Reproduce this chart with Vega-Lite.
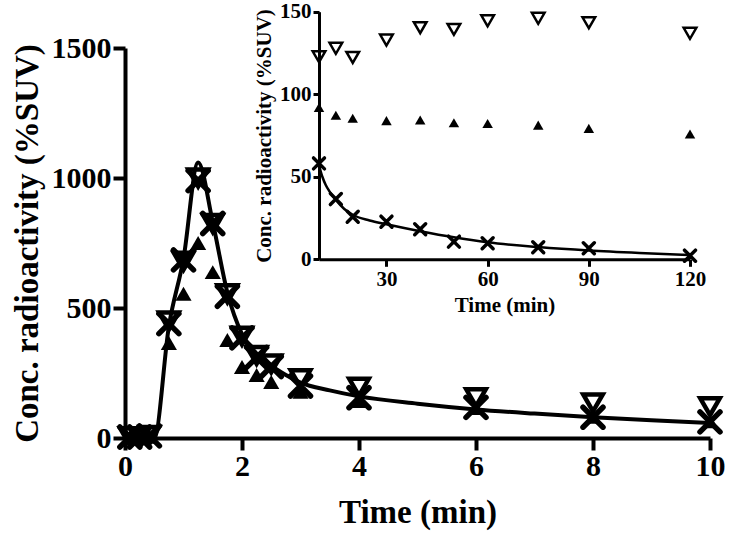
{
  "$schema": "https://vega.github.io/schema/vega-lite/v6.json",
  "width": 585,
  "height": 390,
  "autosize": "none",
  "padding": {"left": 125, "top": 48, "right": 24, "bottom": 99},
  "background": "white",
  "config": {
    "view": {"stroke": null},
    "axis": {
      "grid": false,
      "domainColor": "black",
      "tickColor": "black",
      "labelColor": "black",
      "titleColor": "black",
      "labelFont": "Liberation Serif",
      "titleFont": "Liberation Serif",
      "labelFontWeight": "bold",
      "titleFontWeight": "bold",
      "format": "d"
    }
  },
  "datasets": {
    "main": [
      {"t": 0, "s": "fit", "v": 0}, {"t": 0.25, "s": "fit", "v": 0}, {"t": 0.5, "s": "fit", "v": 0},
      {"t": 0.75, "s": "fit", "v": 430}, {"t": 1.0, "s": "fit", "v": 690}, {"t": 1.25, "s": "fit", "v": 1060},
      {"t": 1.5, "s": "fit", "v": 830}, {"t": 1.75, "s": "fit", "v": 560}, {"t": 2.0, "s": "fit", "v": 400},
      {"t": 2.25, "s": "fit", "v": 325}, {"t": 2.5, "s": "fit", "v": 278}, {"t": 2.75, "s": "fit", "v": 242},
      {"t": 3.0, "s": "fit", "v": 213}, {"t": 3.5, "s": "fit", "v": 183}, {"t": 4.0, "s": "fit", "v": 160},
      {"t": 5.0, "s": "fit", "v": 132}, {"t": 6.0, "s": "fit", "v": 110}, {"t": 7.0, "s": "fit", "v": 94},
      {"t": 8.0, "s": "fit", "v": 80}, {"t": 9.0, "s": "fit", "v": 68}, {"t": 10.0, "s": "fit", "v": 58},

      {"t": 0.083, "s": "inv", "v": 5}, {"t": 0.25, "s": "inv", "v": 5}, {"t": 0.417, "s": "inv", "v": 10},
      {"t": 0.75, "s": "inv", "v": 450}, {"t": 1.0, "s": "inv", "v": 680}, {"t": 1.25, "s": "inv", "v": 1000},
      {"t": 1.5, "s": "inv", "v": 825}, {"t": 1.75, "s": "inv", "v": 555}, {"t": 2.0, "s": "inv", "v": 392},
      {"t": 2.25, "s": "inv", "v": 318}, {"t": 2.5, "s": "inv", "v": 285}, {"t": 3.0, "s": "inv", "v": 228},
      {"t": 4.0, "s": "inv", "v": 195}, {"t": 6.0, "s": "inv", "v": 155}, {"t": 8.0, "s": "inv", "v": 135},
      {"t": 10.0, "s": "inv", "v": 120},

      {"t": 0.083, "s": "tri", "v": 3}, {"t": 0.25, "s": "tri", "v": 3}, {"t": 0.417, "s": "tri", "v": 5},
      {"t": 0.75, "s": "tri", "v": 365}, {"t": 1.0, "s": "tri", "v": 555}, {"t": 1.25, "s": "tri", "v": 750},
      {"t": 1.5, "s": "tri", "v": 638}, {"t": 1.75, "s": "tri", "v": 377}, {"t": 2.0, "s": "tri", "v": 273},
      {"t": 2.25, "s": "tri", "v": 242}, {"t": 2.5, "s": "tri", "v": 215}, {"t": 3.0, "s": "tri", "v": 178},
      {"t": 4.0, "s": "tri", "v": 142}, {"t": 6.0, "s": "tri", "v": 115}, {"t": 8.0, "s": "tri", "v": 82},
      {"t": 10.0, "s": "tri", "v": 64},

      {"t": 0.083, "s": "x", "v": 4}, {"t": 0.25, "s": "x", "v": 4}, {"t": 0.417, "s": "x", "v": 8},
      {"t": 0.75, "s": "x", "v": 440}, {"t": 1.0, "s": "x", "v": 685}, {"t": 1.25, "s": "x", "v": 990},
      {"t": 1.5, "s": "x", "v": 825}, {"t": 1.75, "s": "x", "v": 545}, {"t": 2.0, "s": "x", "v": 385},
      {"t": 2.25, "s": "x", "v": 310}, {"t": 2.5, "s": "x", "v": 275}, {"t": 3.0, "s": "x", "v": 200},
      {"t": 4.0, "s": "x", "v": 155}, {"t": 6.0, "s": "x", "v": 118}, {"t": 8.0, "s": "x", "v": 80},
      {"t": 10.0, "s": "x", "v": 62}
    ],
    "inset": [
      {"t": 10, "s": "fit", "v": 57}, {"t": 11, "s": "fit", "v": 50}, {"t": 12, "s": "fit", "v": 45},
      {"t": 13, "s": "fit", "v": 41.5}, {"t": 15, "s": "fit", "v": 36}, {"t": 17.5, "s": "fit", "v": 30.5},
      {"t": 20, "s": "fit", "v": 27}, {"t": 25, "s": "fit", "v": 23.5}, {"t": 30, "s": "fit", "v": 21.2},
      {"t": 40, "s": "fit", "v": 17}, {"t": 50, "s": "fit", "v": 13.3}, {"t": 60, "s": "fit", "v": 10.3},
      {"t": 75, "s": "fit", "v": 7.4}, {"t": 90, "s": "fit", "v": 5.3}, {"t": 105, "s": "fit", "v": 3.8},
      {"t": 120, "s": "fit", "v": 2.6},

      {"t": 10, "s": "inv", "v": 122.7}, {"t": 15, "s": "inv", "v": 127.8}, {"t": 20, "s": "inv", "v": 122.3},
      {"t": 30, "s": "inv", "v": 132.8}, {"t": 40, "s": "inv", "v": 140.3}, {"t": 50, "s": "inv", "v": 139.3},
      {"t": 60, "s": "inv", "v": 144.5}, {"t": 75, "s": "inv", "v": 146}, {"t": 90, "s": "inv", "v": 143.3},
      {"t": 120, "s": "inv", "v": 136.9},

      {"t": 10, "s": "tri", "v": 92}, {"t": 15, "s": "tri", "v": 87.3}, {"t": 20, "s": "tri", "v": 85.4},
      {"t": 30, "s": "tri", "v": 84}, {"t": 40, "s": "tri", "v": 84.4}, {"t": 50, "s": "tri", "v": 82.7},
      {"t": 60, "s": "tri", "v": 82.3}, {"t": 75, "s": "tri", "v": 81.3}, {"t": 90, "s": "tri", "v": 79.3},
      {"t": 120, "s": "tri", "v": 75.9},

      {"t": 10, "s": "x", "v": 58.1}, {"t": 15, "s": "x", "v": 36.5}, {"t": 20, "s": "x", "v": 25.8},
      {"t": 30, "s": "x", "v": 22.8}, {"t": 40, "s": "x", "v": 18.2}, {"t": 50, "s": "x", "v": 10.7},
      {"t": 60, "s": "x", "v": 9.7}, {"t": 75, "s": "x", "v": 7.3}, {"t": 90, "s": "x", "v": 6.7},
      {"t": 120, "s": "x", "v": 2.2}
    ]
  },
  "resolve": {"scale": {"x": "independent", "y": "independent"}, "axis": {"x": "independent", "y": "independent"}},
  "layer": [
    {
      "data": {"name": "main"},
      "encoding": {
        "x": {"field": "t", "type": "quantitative",
          "scale": {"domain": [0, 10], "nice": false, "zero": false},
          "axis": {"values": [0, 2, 4, 6, 8, 10], "title": "Time (min)", "orient": "bottom",
            "domainWidth": 4, "tickWidth": 4, "tickSize": 12, "labelFontSize": 30, "titleFontSize": 33,
            "labelPadding": 1, "titlePadding": 15, "labelFlush": false}},
        "y": {"field": "v", "type": "quantitative",
          "scale": {"domain": [0, 1500], "nice": false},
          "axis": {"values": [0, 500, 1000, 1500], "title": "Conc. radioactivity (%SUV)", "orient": "left",
            "domainWidth": 4, "tickWidth": 4, "tickSize": 12, "labelFontSize": 30, "titleFontSize": 33,
            "labelPadding": 2, "titlePadding": 7, "labelFlush": false}}
      },
      "layer": [
        {"transform": [{"filter": "datum.s === 'fit'"}],
         "mark": {"type": "line", "color": "black", "strokeWidth": 4, "interpolate": "monotone"}},
        {"transform": [{"filter": "datum.s === 'tri'"}],
         "mark": {"type": "point", "shape": "triangle-up", "filled": true, "color": "black", "opacity": 1, "size": 260}},
        {"transform": [{"filter": "datum.s === 'inv'"}],
         "mark": {"type": "point", "shape": "triangle-down", "filled": false, "color": "black", "opacity": 1, "size": 380, "strokeWidth": 4.5}},
        {"transform": [{"filter": "datum.s === 'x'"}],
         "mark": {"type": "point", "shape": "M-1,-1L1,1M-1,1L1,-1", "filled": false, "color": "black", "opacity": 1, "size": 400, "strokeWidth": 5.5, "strokeCap": "round"}}
      ]
    },
    {
      "data": {"name": "inset"},
      "encoding": {
        "x": {"field": "t", "type": "quantitative",
          "scale": {"domain": [10, 120], "nice": false, "zero": false, "range": [194, 565]},
          "axis": {"values": [30, 60, 90, 120], "title": "Time (min)", "orient": "bottom", "offset": -178.7,
            "domainWidth": 3, "tickWidth": 3, "tickSize": 7, "labelFontSize": 21, "titleFontSize": 21,
            "labelPadding": 2, "titlePadding": 5, "labelFlush": false}},
        "y": {"field": "v", "type": "quantitative",
          "scale": {"domain": [0, 150], "nice": false, "range": [211.3, -36.3]},
          "axis": {"values": [0, 50, 100, 150], "title": "Conc. radioactivity (%SUV)", "orient": "left", "offset": -194,
            "domainWidth": 3, "tickWidth": 3, "tickSize": 6, "labelFontSize": 21, "titleFontSize": 21,
            "labelPadding": 2, "titlePadding": 5, "labelFlush": false}}
      },
      "layer": [
        {"transform": [{"filter": "datum.s === 'fit'"}],
         "mark": {"type": "line", "color": "black", "strokeWidth": 2.5, "interpolate": "monotone"}},
        {"transform": [{"filter": "datum.s === 'tri'"}],
         "mark": {"type": "point", "shape": "triangle-up", "filled": true, "color": "black", "opacity": 1, "size": 110}},
        {"transform": [{"filter": "datum.s === 'inv'"}],
         "mark": {"type": "point", "shape": "triangle-down", "filled": false, "color": "black", "opacity": 1, "size": 160, "strokeWidth": 2.5}},
        {"transform": [{"filter": "datum.s === 'x'"}],
         "mark": {"type": "point", "shape": "M-1,-1L1,1M-1,1L1,-1", "filled": false, "color": "black", "opacity": 1, "size": 120, "strokeWidth": 3.5, "strokeCap": "round"}}
      ]
    }
  ]
}
